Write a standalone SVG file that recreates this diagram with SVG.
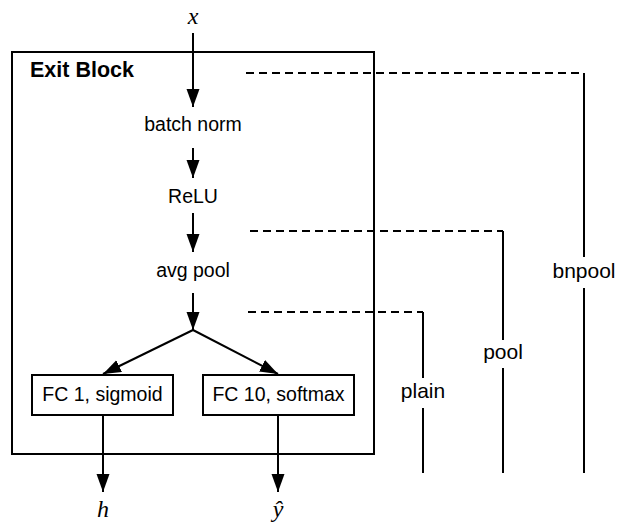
<svg xmlns="http://www.w3.org/2000/svg" width="625" height="522" viewBox="0 0 625 522">
<style>
.t{font-family:"Liberation Sans",Arial,sans-serif;font-size:19.5px;fill:#000;text-anchor:middle}
.r{font-family:"Liberation Sans",Arial,sans-serif;font-size:21px;fill:#000;text-anchor:middle}
.m{font-family:"Liberation Serif","Times New Roman",serif;font-style:italic;font-size:24px;fill:#000;text-anchor:middle}
.ln{stroke:#000;stroke-width:2;fill:none}
.d{stroke:#000;stroke-width:2;fill:none;stroke-dasharray:8 5}
.box{stroke:#000;stroke-width:2;fill:#fff}
</style>
<defs>
<marker id="ah" markerUnits="userSpaceOnUse" markerWidth="19" markerHeight="14" refX="18" refY="6.5" orient="auto">
<path d="M0,0 L18,6.5 L0,13 Z" fill="#000"/>
</marker>
</defs>
<rect width="625" height="522" fill="#fff"/>
<g id="exit-block">
<rect x="12" y="52" width="362" height="402" class="ln"/>
<text x="30" y="77" style="font-family:'Liberation Sans',Arial,sans-serif;font-size:21.5px;font-weight:bold">Exit Block</text>
</g>
<g id="connectors">
<line x1="193" y1="33" x2="193" y2="107" class="ln" marker-end="url(#ah)"/>
<line x1="193" y1="148" x2="193" y2="178" class="ln" marker-end="url(#ah)"/>
<line x1="193" y1="213" x2="193" y2="252" class="ln" marker-end="url(#ah)"/>
<line x1="193" y1="293" x2="193" y2="330" class="ln" marker-end="url(#ah)"/>
<line x1="193" y1="330" x2="103" y2="374" class="ln" marker-end="url(#ah)"/>
<line x1="193" y1="330" x2="278" y2="374" class="ln" marker-end="url(#ah)"/>
<line x1="103" y1="415" x2="103" y2="492" class="ln" marker-end="url(#ah)"/>
<line x1="278" y1="415" x2="278" y2="492" class="ln" marker-end="url(#ah)"/>
<line x1="246" y1="73" x2="584" y2="73" class="d"/>
<line x1="584" y1="73" x2="584" y2="257" class="ln"/>
<line x1="584" y1="288" x2="584" y2="473" class="ln"/>
<line x1="250" y1="231" x2="503" y2="231" class="d"/>
<line x1="503" y1="231" x2="503" y2="340" class="ln"/>
<line x1="503" y1="368" x2="503" y2="473" class="ln"/>
<line x1="248" y1="312" x2="423" y2="312" class="d"/>
<line x1="423" y1="312" x2="423" y2="378" class="ln"/>
<line x1="423" y1="408" x2="423" y2="473" class="ln"/>
</g>
<g id="input-x"><text x="193" y="24" class="m">x</text></g>
<g id="batch-norm"><text x="193" y="131" class="t">batch norm</text></g>
<g id="relu"><text x="193" y="203" class="t">ReLU</text></g>
<g id="avg-pool"><text x="193" y="277" class="t">avg pool</text></g>
<g id="fc1">
<rect x="32" y="375" width="141" height="40" class="box"/>
<text x="102.5" y="401" class="t">FC 1, sigmoid</text>
</g>
<g id="fc10">
<rect x="203" y="375" width="151" height="40" class="box"/>
<text x="278.5" y="401" class="t">FC 10, softmax</text>
</g>
<g id="out-h"><text x="103" y="517" class="m">h</text></g>
<g id="out-yhat"><text x="278" y="517" class="m">ŷ</text></g>
<g id="label-bnpool"><text x="584" y="278" class="r">bnpool</text></g>
<g id="label-pool"><text x="503" y="359" class="r">pool</text></g>
<g id="label-plain"><text x="423" y="398" class="r">plain</text></g>
</svg>
